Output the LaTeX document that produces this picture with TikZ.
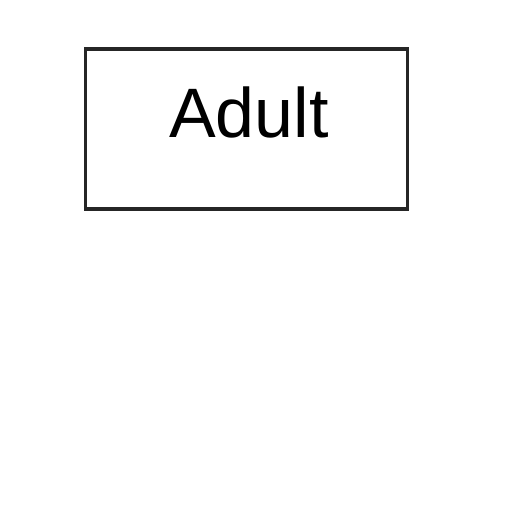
\documentclass[tikz,border=0pt]{standalone}
\usepackage{fontspec}
\setmainfont{Liberation Sans}
\begin{document}
\begin{tikzpicture}[x=1pt,y=-1pt,
  boxstyle/.style={draw=black!85,line width=3.2pt,inner sep=0pt}]
\useasboundingbox[fill=white] (0,0) rectangle (512,512);
\node[boxstyle,minimum width=322pt,minimum height=160pt] (box) at (246.5,129) {};
\node[font=\fontsize{70}{70}\selectfont,inner sep=0pt,anchor=base] (lbl) at (249,137) {Adult};
\end{tikzpicture}
\end{document}
